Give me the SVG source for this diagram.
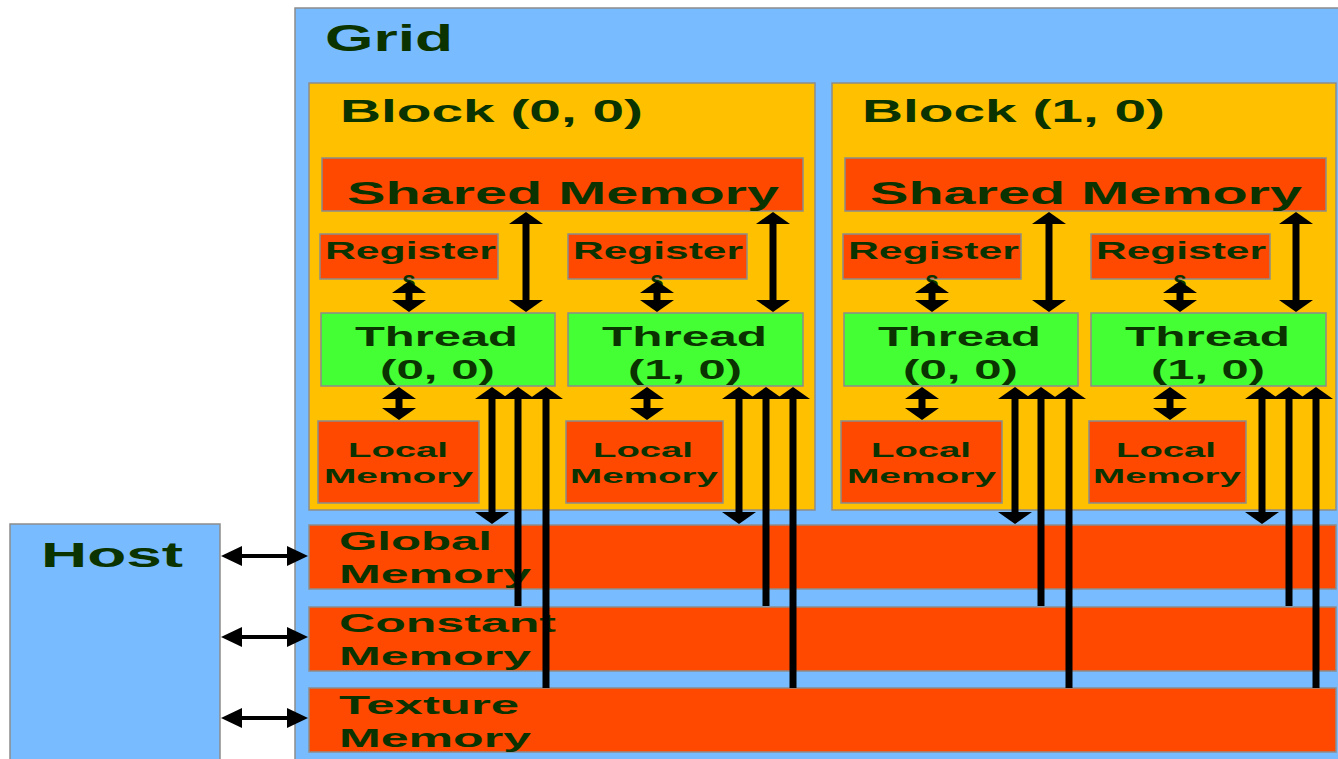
<svg xmlns="http://www.w3.org/2000/svg" width="1338" height="759" viewBox="0 0 1338 759">
<defs>
<style>
.grid{fill:#78bcff;stroke:#8c8c8c;stroke-width:1.5}
.blk{fill:#ffc000;stroke:#8c8c8c;stroke-width:1.5}
.mem{fill:#ff4800;stroke:#8c8c8c;stroke-width:1.5}
.thr{fill:#44ff33;stroke:#8c8c8c;stroke-width:1.5}
text{font-family:"Liberation Sans",Arial,sans-serif;font-weight:bold;fill:#0a3300}
.c{text-anchor:middle}
.ln{stroke:#000;stroke-width:7;fill:none}
.hl{stroke:#000;stroke-width:4;fill:none}
.f37{font-size:37px}.f31{font-size:31px}.f27{font-size:27px}.f24{font-size:24px}.f21{font-size:21px}.f25{font-size:25px}.f35{font-size:35px}
</style>
<marker id="ah" viewBox="0 0 12 34" refX="2" refY="17" markerWidth="12" markerHeight="34" markerUnits="userSpaceOnUse" orient="auto-start-reverse"><path d="M0,0 L12,17 L0,34 z" fill="#000"/></marker>
<marker id="hh" viewBox="0 0 21 20" refX="5" refY="10" markerWidth="21" markerHeight="20" markerUnits="userSpaceOnUse" orient="auto-start-reverse"><path d="M0,0 L21,10 L0,20 z" fill="#000"/></marker>
</defs>
<rect width="1338" height="759" fill="#fff"/>
<g id="grid">
<rect class="grid" x="295" y="8" width="1060" height="770"/>
<text class="f37" x="325" y="51" textLength="128" lengthAdjust="spacingAndGlyphs">Grid</text>
</g>
<g id="host">
<rect class="grid" x="10" y="524" width="210" height="250"/>
<text class="f35" x="41" y="567" textLength="142" lengthAdjust="spacingAndGlyphs">Host</text>
</g>
<g id="block00">
<rect class="blk" x="309" y="83" width="506" height="427"/>
<text class="f31" x="340" y="122" textLength="303" lengthAdjust="spacingAndGlyphs">Block (0, 0)</text>
</g>
<g id="shared00">
<rect class="mem" x="322" y="158" width="481" height="53"/>
<text class="f31" x="347" y="204" textLength="432" lengthAdjust="spacingAndGlyphs">Shared Memory</text>
</g>
<g id="reg00_0">
<rect class="mem" x="320" y="234" width="178" height="45"/>
<text class="f24" x="325" y="259" textLength="171" lengthAdjust="spacingAndGlyphs">Register</text>
<text class="f24 c" x="409" y="288">s</text>
</g>
<g id="reg00_1">
<rect class="mem" x="568" y="234" width="179" height="45"/>
<text class="f24" x="573" y="259" textLength="170" lengthAdjust="spacingAndGlyphs">Register</text>
<text class="f24 c" x="657" y="288">s</text>
</g>
<g id="thr00_0">
<rect class="thr" x="321" y="313" width="234" height="73"/>
<text class="f27" x="355" y="346" textLength="163" lengthAdjust="spacingAndGlyphs">Thread</text>
<text class="f27" x="380" y="379" textLength="115" lengthAdjust="spacingAndGlyphs">(0, 0)</text>
</g>
<g id="thr00_1">
<rect class="thr" x="568" y="313" width="235" height="73"/>
<text class="f27" x="602" y="346" textLength="165" lengthAdjust="spacingAndGlyphs">Thread</text>
<text class="f27" x="628" y="379" textLength="114" lengthAdjust="spacingAndGlyphs">(1, 0)</text>
</g>
<g id="loc00_0">
<rect class="mem" x="318" y="421" width="161" height="82"/>
<text class="f21" x="348" y="457" textLength="100" lengthAdjust="spacingAndGlyphs">Local</text>
<text class="f21" x="324" y="483" textLength="149" lengthAdjust="spacingAndGlyphs">Memory</text>
</g>
<g id="loc00_1">
<rect class="mem" x="566" y="421" width="157" height="82"/>
<text class="f21" x="593" y="457" textLength="100" lengthAdjust="spacingAndGlyphs">Local</text>
<text class="f21" x="570" y="483" textLength="148" lengthAdjust="spacingAndGlyphs">Memory</text>
</g>
<g id="block10">
<rect class="blk" x="832" y="83" width="504" height="427"/>
<text class="f31" x="862" y="122" textLength="303" lengthAdjust="spacingAndGlyphs">Block (1, 0)</text>
</g>
<g id="shared10">
<rect class="mem" x="845" y="158" width="481" height="53"/>
<text class="f31" x="870" y="204" textLength="432" lengthAdjust="spacingAndGlyphs">Shared Memory</text>
</g>
<g id="reg10_0">
<rect class="mem" x="843" y="234" width="178" height="45"/>
<text class="f24" x="848" y="259" textLength="171" lengthAdjust="spacingAndGlyphs">Register</text>
<text class="f24 c" x="932" y="288">s</text>
</g>
<g id="reg10_1">
<rect class="mem" x="1091" y="234" width="179" height="45"/>
<text class="f24" x="1096" y="259" textLength="170" lengthAdjust="spacingAndGlyphs">Register</text>
<text class="f24 c" x="1180" y="288">s</text>
</g>
<g id="thr10_0">
<rect class="thr" x="844" y="313" width="234" height="73"/>
<text class="f27" x="878" y="346" textLength="163" lengthAdjust="spacingAndGlyphs">Thread</text>
<text class="f27" x="903" y="379" textLength="115" lengthAdjust="spacingAndGlyphs">(0, 0)</text>
</g>
<g id="thr10_1">
<rect class="thr" x="1091" y="313" width="235" height="73"/>
<text class="f27" x="1125" y="346" textLength="165" lengthAdjust="spacingAndGlyphs">Thread</text>
<text class="f27" x="1151" y="379" textLength="114" lengthAdjust="spacingAndGlyphs">(1, 0)</text>
</g>
<g id="loc10_0">
<rect class="mem" x="841" y="421" width="161" height="82"/>
<text class="f21" x="871" y="457" textLength="100" lengthAdjust="spacingAndGlyphs">Local</text>
<text class="f21" x="847" y="483" textLength="149" lengthAdjust="spacingAndGlyphs">Memory</text>
</g>
<g id="loc10_1">
<rect class="mem" x="1089" y="421" width="157" height="82"/>
<text class="f21" x="1116" y="457" textLength="100" lengthAdjust="spacingAndGlyphs">Local</text>
<text class="f21" x="1093" y="483" textLength="148" lengthAdjust="spacingAndGlyphs">Memory</text>
</g>
<g id="global">
<rect class="mem" x="309" y="525" width="1027" height="64"/>
<text class="f25" x="339" y="550" textLength="153" lengthAdjust="spacingAndGlyphs">Global</text>
<text class="f25" x="339" y="583" textLength="192" lengthAdjust="spacingAndGlyphs">Memory</text>
</g>
<g id="constant">
<rect class="mem" x="309" y="607" width="1027" height="64"/>
<text class="f25" x="339" y="632" textLength="217" lengthAdjust="spacingAndGlyphs">Constant</text>
<text class="f25" x="339" y="665" textLength="192" lengthAdjust="spacingAndGlyphs">Memory</text>
</g>
<g id="texture">
<rect class="mem" x="309" y="688" width="1027" height="64"/>
<text class="f25" x="339" y="714" textLength="180" lengthAdjust="spacingAndGlyphs">Texture</text>
<text class="f25" x="339" y="747" textLength="192" lengthAdjust="spacingAndGlyphs">Memory</text>
</g>
<g id="connectors">
<g id="b0">
<path class="ln" d="M409,291V302" marker-start="url(#ah)" marker-end="url(#ah)"/>
<path class="ln" d="M657,291V302" marker-start="url(#ah)" marker-end="url(#ah)"/>
<path class="ln" d="M526,222V302" marker-start="url(#ah)" marker-end="url(#ah)"/>
<path class="ln" d="M773,222V302" marker-start="url(#ah)" marker-end="url(#ah)"/>
<path class="ln" d="M399,397V410" marker-start="url(#ah)" marker-end="url(#ah)"/>
<path class="ln" d="M647,397V410" marker-start="url(#ah)" marker-end="url(#ah)"/>
<path class="ln" d="M492,397V514" marker-start="url(#ah)" marker-end="url(#ah)"/>
<path class="ln" d="M739,397V514" marker-start="url(#ah)" marker-end="url(#ah)"/>
<path class="ln" d="M518,606V397" marker-end="url(#ah)"/>
<path class="ln" d="M766,606V397" marker-end="url(#ah)"/>
<path class="ln" d="M546,688V397" marker-end="url(#ah)"/>
<path class="ln" d="M793,688V397" marker-end="url(#ah)"/>
</g>
<g id="b1">
<path class="ln" d="M932,291V302" marker-start="url(#ah)" marker-end="url(#ah)"/>
<path class="ln" d="M1180,291V302" marker-start="url(#ah)" marker-end="url(#ah)"/>
<path class="ln" d="M1049,222V302" marker-start="url(#ah)" marker-end="url(#ah)"/>
<path class="ln" d="M1296,222V302" marker-start="url(#ah)" marker-end="url(#ah)"/>
<path class="ln" d="M922,397V410" marker-start="url(#ah)" marker-end="url(#ah)"/>
<path class="ln" d="M1170,397V410" marker-start="url(#ah)" marker-end="url(#ah)"/>
<path class="ln" d="M1015,397V514" marker-start="url(#ah)" marker-end="url(#ah)"/>
<path class="ln" d="M1262,397V514" marker-start="url(#ah)" marker-end="url(#ah)"/>
<path class="ln" d="M1041,606V397" marker-end="url(#ah)"/>
<path class="ln" d="M1289,606V397" marker-end="url(#ah)"/>
<path class="ln" d="M1069,688V397" marker-end="url(#ah)"/>
<path class="ln" d="M1316,688V397" marker-end="url(#ah)"/>
</g>
<g id="host-links">
<path class="hl" d="M237,556H292" marker-start="url(#hh)" marker-end="url(#hh)"/>
<path class="hl" d="M237,637H292" marker-start="url(#hh)" marker-end="url(#hh)"/>
<path class="hl" d="M237,718H292" marker-start="url(#hh)" marker-end="url(#hh)"/>
</g>
</g>
</svg>
